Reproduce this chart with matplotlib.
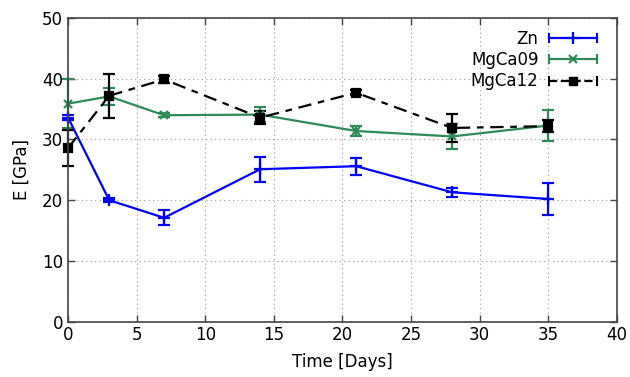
import matplotlib
matplotlib.use("Agg")
import matplotlib.pyplot as plt
from matplotlib.lines import Line2D
from matplotlib.legend_handler import HandlerBase

days = [0, 3, 7, 14, 21, 28, 35]

zn = [33.6, 20.0, 17.1, 25.1, 25.6, 21.3, 20.2]
zn_err = [0.4, 0.3, 1.25, 2.05, 1.4, 0.7, 2.7]

mgca09 = [35.9, 37.1, 34.0, 34.1, 31.4, 30.5, 32.3]
mgca09_err = [4.0, 1.4, 0.3, 1.2, 0.9, 2.0, 2.6]

mgca12 = [28.6, 37.2, 39.9, 33.6, 37.7, 31.9, 32.2]
mgca12_err = [2.9, 3.6, 0.6, 1.1, 0.4, 2.3, 1.0]

blue = "#0000ff"
green = "#2e8b57"
black = "#000000"


class CapHandler(HandlerBase):
    # gnuplot-like key sample: line with end caps and marker in the middle
    def create_artists(self, legend, orig, xd, yd, w, h, fontsize, trans):
        y = (h - yd) / 2.0
        x0, x1 = -xd, -xd + w
        line = Line2D([x0, x1], [y, y], color=orig.get_color(),
                      linestyle=orig.get_linestyle(), lw=orig.get_linewidth())
        mk = Line2D([(x0 + x1) / 2], [y], color=orig.get_color(),
                    marker=orig.get_marker(), markersize=orig.get_markersize(),
                    markeredgewidth=orig.get_markeredgewidth(), linestyle="none")
        c = h * 0.35
        cap0 = Line2D([x0, x0], [y - c, y + c], color=orig.get_color(), lw=1.5)
        cap1 = Line2D([x1, x1], [y - c, y + c], color=orig.get_color(), lw=1.5)
        arts = [line, mk, cap0, cap1]
        for a in arts:
            a.set_transform(trans)
        return arts


fig = plt.figure(figsize=(6.3, 3.77), dpi=100)
ax = fig.add_axes([0.108, 0.147, 0.871, 0.805])

kw = dict(lw=1.6, mew=1.6, capsize=4, capthick=1.6, elinewidth=1.6, clip_on=False)
ax.errorbar(days, zn, yerr=zn_err, color=blue, marker="+", ms=8, **kw)
ax.errorbar(days, mgca09, yerr=mgca09_err, color=green, marker="x", ms=6, **kw)
ax.errorbar(days, mgca12, yerr=mgca12_err, color=black, marker="s", ms=6,
            linestyle=(0, (6, 3, 3, 3)), **kw)

handles = [
    Line2D([], [], color=blue, lw=1.6, marker="+", ms=8, mew=1.6),
    Line2D([], [], color=green, lw=1.6, marker="x", ms=6, mew=1.6),
    Line2D([], [], color=black, lw=1.6, marker="s", ms=6,
           linestyle=(0, (4, 3, 2, 3))),
]
ax.legend(handles, ["Zn", "MgCa09", "MgCa12"], loc="upper right",
          frameon=False, markerfirst=False, fontsize=12, handlelength=2.9,
          handletextpad=0.6, labelspacing=0.2, borderaxespad=0.3,
          bbox_to_anchor=(0.985, 1.0),
          handler_map={h: CapHandler() for h in handles})

ax.set_xlim(0, 40)
ax.set_ylim(0, 50)
ax.set_xticks(range(0, 41, 5))
ax.set_yticks(range(0, 51, 10))
ax.tick_params(direction="in", top=True, right=True, labelsize=12,
               length=5, width=1, color="#444444")
ax.grid(True, linestyle=(0, (1, 3)), color="#999999", lw=0.8)
for s in ax.spines.values():
    s.set_color("#444444")
    s.set_linewidth(1.2)

ax.set_xlabel("Time [Days]", fontsize=12, labelpad=6)
ax.set_ylabel("E [GPa]", fontsize=12, labelpad=8)

fig.savefig("out.png", dpi=100)
